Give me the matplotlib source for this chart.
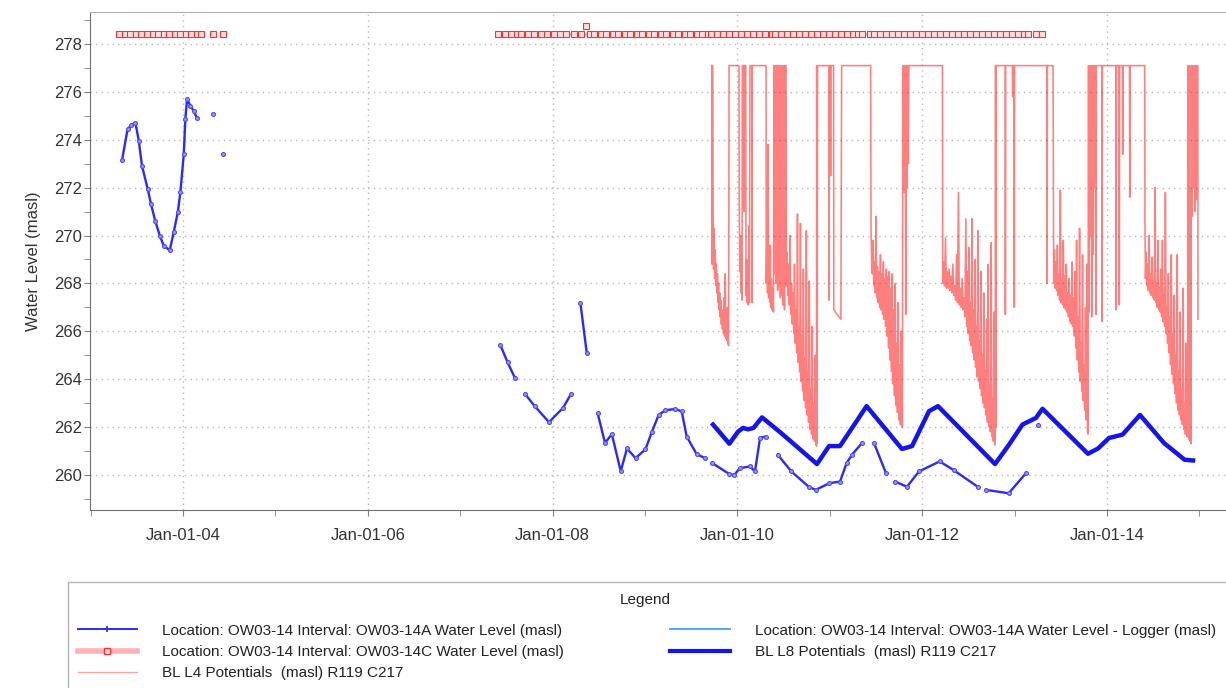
import numpy as np
import matplotlib
matplotlib.use('Agg')
import matplotlib.pyplot as plt
from matplotlib.lines import Line2D
from matplotlib.patches import Rectangle

plt.rcParams['font.family'] = ['Liberation Sans', 'DejaVu Sans']

# x axis in decimal years, y in masl
year_ticks = [2004, 2006, 2008, 2010, 2012, 2014]
year_labels = ['Jan-01-04', 'Jan-01-06', 'Jan-01-08', 'Jan-01-10', 'Jan-01-12', 'Jan-01-14']
year_minor = list(range(2003, 2016))
nan = np.nan

# OW03-14A Water Level (manual readings), gaps marked by nan
wl_a = [
    (2003.340, 273.15), (2003.400, 274.45), (2003.437, 274.60), (2003.484, 274.72),
    (2003.521, 273.96), (2003.556, 272.90), (2003.618, 271.94), (2003.654, 271.30),
    (2003.700, 270.60), (2003.748, 270.00), (2003.791, 269.58), (2003.856, 269.38),
    (2003.899, 270.14), (2003.943, 270.97), (2003.971, 271.80), (2004.008, 273.40),
    (2004.025, 274.86), (2004.043, 275.70), (2004.079, 275.42), (2004.116, 275.20),
    (2004.152, 274.90), (nan, nan),
    (2004.325, 275.07), (nan, nan),
    (2004.433, 273.40), (nan, nan),
    (2007.433, 265.43), (2007.513, 264.70), (2007.593, 264.04), (nan, nan),
    (2007.701, 263.38), (2007.808, 262.86), (2007.961, 262.20), (2008.113, 262.80),
    (2008.199, 263.38), (nan, nan),
    (2008.301, 267.17), (2008.369, 265.10), (nan, nan),
    (2008.487, 262.58), (2008.567, 261.33), (2008.641, 261.70), (2008.737, 260.15),
    (2008.805, 261.10), (2008.897, 260.70), (2009.004, 261.06), (2009.075, 261.80),
    (2009.147, 262.50), (2009.220, 262.70), (2009.325, 262.75), (2009.397, 262.65),
    (2009.451, 261.60), (2009.558, 260.87), (2009.647, 260.70), (nan, nan),
    (2009.725, 260.50), (2009.913, 260.03), (2009.968, 260.00), (2010.025, 260.28),
    (2010.136, 260.35), (2010.190, 260.14), (2010.245, 261.54), (2010.305, 261.60),
    (nan, nan),
    (2010.436, 260.84), (2010.584, 260.14), (2010.772, 259.50), (2010.846, 259.37),
    (2010.996, 259.65), (2011.111, 259.72), (2011.182, 260.49), (2011.240, 260.84),
    (2011.348, 261.33), (nan, nan),
    (2011.478, 261.33), (2011.608, 260.07), (nan, nan),
    (2011.706, 259.72), (2011.835, 259.50), (2011.965, 260.14), (2012.189, 260.56),
    (2012.339, 260.20), (2012.601, 259.50), (nan, nan),
    (2012.690, 259.37), (2012.936, 259.23), (2013.123, 260.07), (nan, nan),
    (2013.253, 262.07),
]

# OW03-14C Water Level, flat readings at the top of the chart
c_level = 278.42
c_t = [
    2003.31, 2003.37, 2003.43, 2003.49, 2003.55, 2003.61, 2003.67, 2003.73,
    2003.79, 2003.85, 2003.91, 2003.97, 2004.03, 2004.09, 2004.15, 2004.19, nan,
    2004.325, nan, 2004.433, nan,
    2007.41, 2007.48, 2007.55, 2007.615, nan,
    2007.66, 2007.73, 2007.80, 2007.87, 2007.94, 2008.01, 2008.08, 2008.15, 2008.23, nan,
    2008.31, 2008.40, nan,
    2008.45, 2008.52, 2008.58, 2008.65, 2008.71, 2008.78, 2008.84, 2008.91, 2008.97,
    2009.04, 2009.10, 2009.17, 2009.23, 2009.30, 2009.36, 2009.43, 2009.49, 2009.56,
    2009.62, 2009.68, nan,
    2009.71, 2009.78, 2009.84, 2009.91, 2009.97, 2010.04, 2010.10, 2010.17, 2010.23,
    2010.30, 2010.37, nan,
    2010.41, 2010.47, 2010.54, 2010.60, 2010.67, 2010.73, 2010.80, 2010.86, 2010.93,
    2010.99, 2011.06, 2011.12, 2011.19, 2011.25, 2011.30, nan,
    2011.35, 2011.43, nan,
    2011.48, 2011.54, 2011.61, 2011.67, 2011.74, 2011.80, 2011.87, 2011.93, 2012.00,
    2012.06, 2012.13, 2012.19, 2012.26, 2012.32, 2012.39, 2012.45, 2012.52, 2012.58,
    2012.65, 2012.71, 2012.78, 2012.84, 2012.91, 2012.97, 2013.04, 2013.10, 2013.145, nan,
    2013.23, 2013.30,
]
c_high = (2008.36, 278.75)

# BL L8 Potentials
l8 = [
    (2009.736, 262.10), (2009.913, 261.30), (2010.006, 261.80), (2010.060, 261.96),
    (2010.115, 261.90), (2010.174, 261.96), (2010.266, 262.40), (2010.472, 261.75),
    (2010.861, 260.45), (2010.991, 261.20), (2011.110, 261.20), (2011.398, 262.87),
    (2011.781, 261.08), (2011.890, 261.20), (2012.074, 262.66), (2012.171, 262.87),
    (2012.788, 260.45), (2012.940, 261.26), (2013.085, 262.10), (2013.232, 262.38),
    (2013.302, 262.76), (2013.794, 260.88), (2013.903, 261.10), (2014.022, 261.54),
    (2014.168, 261.68), (2014.357, 262.50), (2014.617, 261.33), (2014.840, 260.63),
    (2014.931, 260.60),
]

# BL L4 Potentials (logger style, capped at 277.1)
l4 = [
    (2009.722, 277.1), (2009.726, 268.8), (2009.730, 277.1), (2009.736, 271.6),
    (2009.742, 268.6), (2009.748, 270.3), (2009.754, 268.2), (2009.760, 269.4),
    (2009.766, 267.9), (2009.772, 268.8), (2009.778, 267.6), (2009.784, 268.4),
    (2009.790, 267.2), (2009.796, 268.0), (2009.802, 266.9), (2009.808, 267.6),
    (2009.814, 266.6), (2009.820, 267.3), (2009.826, 266.3), (2009.832, 266.9),
    (2009.838, 266.1), (2009.844, 266.6), (2009.850, 265.9), (2009.856, 267.4),
    (2009.862, 265.8), (2009.868, 268.4), (2009.874, 265.7), (2009.880, 266.2),
    (2009.886, 265.6), (2009.892, 267.0), (2009.898, 265.5), (2009.904, 265.4),
    (2009.910, 277.1),
    (2010.017, 277.1), (2010.020, 271.4), (2010.026, 268.5), (2010.032, 270.0),
    (2010.038, 267.6), (2010.044, 269.2), (2010.050, 267.3), (2010.053, 277.1),
    (2010.070, 277.1), (2010.072, 271.0), (2010.074, 277.1),
    (2010.090, 277.1), (2010.093, 267.5), (2010.100, 269.0), (2010.106, 267.2),
    (2010.112, 268.6), (2010.118, 267.1), (2010.124, 270.4), (2010.130, 267.2),
    (2010.136, 277.1), (2010.156, 277.1), (2010.158, 267.2), (2010.161, 277.1),
    (2010.310, 277.1), (2010.312, 268.0), (2010.320, 270.2), (2010.326, 267.6),
    (2010.332, 273.8), (2010.338, 267.4), (2010.344, 268.5), (2010.350, 267.2),
    (2010.356, 269.6), (2010.362, 267.0), (2010.368, 268.2), (2010.374, 266.9),
    (2010.380, 267.8), (2010.390, 266.8), (2010.396, 277.1),
    (2010.405, 268.4), (2010.410, 277.1), (2010.420, 268.0), (2010.425, 277.1),
    (2010.435, 267.7), (2010.440, 277.1), (2010.450, 267.9), (2010.455, 277.1),
    (2010.465, 267.4), (2010.470, 277.1), (2010.480, 267.5), (2010.485, 277.1),
    (2010.495, 267.1), (2010.500, 277.1), (2010.510, 266.9), (2010.515, 277.1),
    (2010.526, 277.1),
    (2010.530, 267.9), (2010.538, 269.3), (2010.546, 267.5), (2010.554, 268.8),
    (2010.562, 267.1), (2010.570, 270.0), (2010.578, 266.7), (2010.586, 268.0),
    (2010.594, 266.3), (2010.602, 267.6), (2010.610, 265.9), (2010.618, 268.8),
    (2010.626, 265.5), (2010.634, 266.9), (2010.642, 265.1), (2010.650, 270.9),
    (2010.658, 264.7), (2010.666, 266.2), (2010.674, 264.3), (2010.682, 270.5),
    (2010.690, 263.9), (2010.698, 265.8), (2010.706, 263.5), (2010.714, 268.6),
    (2010.722, 263.1), (2010.730, 264.9), (2010.738, 262.8), (2010.746, 270.2),
    (2010.754, 262.5), (2010.762, 264.4), (2010.770, 262.2), (2010.778, 268.1),
    (2010.786, 261.9), (2010.794, 263.6), (2010.802, 261.7), (2010.810, 266.2),
    (2010.818, 261.5), (2010.826, 263.0), (2010.834, 261.4), (2010.842, 265.0),
    (2010.850, 261.3), (2010.856, 261.2), (2010.858, 277.1), (2010.863, 261.3),
    (2010.867, 277.1),
    (2010.989, 277.1), (2010.991, 267.3), (2010.993, 277.1),
    (2011.007, 277.1), (2011.009, 272.5), (2011.011, 277.1),
    (2011.041, 277.1), (2011.043, 266.9), (2011.060, 266.8), (2011.080, 266.7),
    (2011.100, 266.6), (2011.120, 266.5), (2011.128, 277.1),
    (2011.442, 277.1), (2011.446, 270.5), (2011.452, 269.0), (2011.460, 268.4),
    (2011.468, 269.8), (2011.476, 267.9), (2011.484, 268.9), (2011.492, 267.6),
    (2011.500, 270.8), (2011.508, 267.4), (2011.516, 268.7), (2011.524, 267.2),
    (2011.532, 268.5), (2011.540, 267.0), (2011.548, 269.2), (2011.556, 266.9),
    (2011.564, 268.4), (2011.572, 266.7), (2011.580, 268.9), (2011.588, 266.5),
    (2011.596, 268.2), (2011.604, 266.2), (2011.612, 268.6), (2011.620, 265.8),
    (2011.628, 268.3), (2011.636, 265.3), (2011.644, 268.5), (2011.652, 264.8),
    (2011.660, 267.8), (2011.668, 264.3), (2011.676, 268.4), (2011.684, 263.8),
    (2011.692, 266.9), (2011.700, 263.3), (2011.708, 268.0), (2011.716, 262.9),
    (2011.724, 265.5), (2011.732, 262.6), (2011.740, 267.2), (2011.748, 262.3),
    (2011.756, 264.6), (2011.764, 262.1), (2011.772, 266.0), (2011.780, 262.0),
    (2011.786, 262.0), (2011.790, 277.1),
    (2011.795, 272.5), (2011.800, 277.1), (2011.808, 271.8), (2011.815, 277.1),
    (2011.822, 266.7), (2011.826, 277.1), (2011.835, 272.0), (2011.840, 277.1),
    (2011.850, 273.0), (2011.855, 277.1),
    (2012.219, 277.1), (2012.222, 268.0), (2012.232, 268.9), (2012.242, 267.9),
    (2012.252, 269.9), (2012.262, 267.8), (2012.272, 268.5), (2012.282, 267.8),
    (2012.292, 268.6), (2012.302, 267.7), (2012.312, 268.3), (2012.322, 267.6),
    (2012.332, 268.8), (2012.342, 267.5), (2012.352, 267.9), (2012.362, 267.3),
    (2012.372, 269.2), (2012.382, 267.2), (2012.392, 271.8), (2012.402, 267.1),
    (2012.412, 267.8), (2012.422, 267.0), (2012.432, 268.2), (2012.442, 266.9),
    (2012.452, 267.4), (2012.462, 266.6), (2012.472, 270.7), (2012.482, 266.2),
    (2012.490, 268.5), (2012.498, 265.9), (2012.506, 269.5), (2012.514, 265.6),
    (2012.522, 267.2), (2012.530, 265.4), (2012.538, 270.7), (2012.546, 265.1),
    (2012.554, 266.9), (2012.562, 264.8), (2012.570, 269.0), (2012.578, 264.5),
    (2012.586, 266.2), (2012.594, 264.1), (2012.602, 270.2), (2012.610, 263.9),
    (2012.618, 265.6), (2012.626, 263.6), (2012.634, 268.5), (2012.642, 263.3),
    (2012.650, 265.0), (2012.658, 263.0), (2012.666, 267.6), (2012.674, 262.8),
    (2012.682, 264.4), (2012.690, 262.5), (2012.698, 266.5), (2012.706, 262.2),
    (2012.714, 268.8), (2012.722, 262.0), (2012.730, 263.8), (2012.738, 261.8),
    (2012.746, 269.7), (2012.754, 261.6), (2012.762, 263.2), (2012.770, 261.4),
    (2012.778, 266.8), (2012.786, 261.25), (2012.790, 261.25), (2012.794, 277.1),
    (2012.797, 262.0), (2012.800, 277.1),
    (2012.898, 277.1), (2012.900, 266.7), (2012.904, 277.1),
    (2012.976, 277.1), (2012.979, 275.8), (2012.982, 277.1),
    (2012.994, 277.1), (2012.997, 267.0), (2013.000, 277.1),
    (2013.350, 277.1), (2013.352, 268.0), (2013.355, 277.1),
    (2013.416, 277.1), (2013.419, 272.5), (2013.423, 268.0), (2013.431, 269.4),
    (2013.439, 267.8), (2013.447, 268.9), (2013.455, 267.7), (2013.463, 269.6),
    (2013.471, 267.5), (2013.479, 268.4), (2013.487, 267.3), (2013.495, 271.9),
    (2013.503, 267.2), (2013.511, 268.1), (2013.519, 267.1), (2013.527, 269.8),
    (2013.535, 267.0), (2013.543, 268.3), (2013.551, 266.9), (2013.559, 268.8),
    (2013.567, 266.8), (2013.575, 267.6), (2013.583, 266.6), (2013.591, 268.2),
    (2013.599, 266.4), (2013.607, 267.5), (2013.615, 266.3), (2013.623, 268.9),
    (2013.631, 266.2), (2013.639, 267.4), (2013.647, 265.8), (2013.655, 268.5),
    (2013.663, 265.3), (2013.671, 269.8), (2013.679, 264.8), (2013.687, 266.6),
    (2013.695, 264.3), (2013.703, 270.3), (2013.711, 263.9), (2013.719, 265.5),
    (2013.727, 263.5), (2013.735, 269.2), (2013.743, 263.1), (2013.751, 264.6),
    (2013.759, 262.7), (2013.767, 267.0), (2013.775, 262.3), (2013.783, 268.8),
    (2013.789, 261.8), (2013.794, 261.7), (2013.800, 277.1),
    (2013.805, 266.8), (2013.810, 277.1), (2013.820, 270.0), (2013.825, 277.1),
    (2013.835, 266.6), (2013.840, 277.1), (2013.850, 269.2), (2013.855, 277.1),
    (2013.865, 272.0), (2013.870, 277.1), (2013.880, 266.7), (2013.885, 277.1),
    (2013.943, 277.1), (2013.946, 266.4), (2013.950, 277.1),
    (2014.096, 277.1), (2014.099, 266.9), (2014.103, 277.1),
    (2014.130, 277.1), (2014.133, 267.1), (2014.137, 277.1),
    (2014.167, 277.1), (2014.170, 273.4), (2014.173, 277.1),
    (2014.243, 277.1), (2014.246, 271.6), (2014.249, 277.1),
    (2014.408, 277.1), (2014.411, 270.5), (2014.416, 268.2), (2014.424, 269.3),
    (2014.432, 267.9), (2014.440, 268.8), (2014.448, 267.7), (2014.456, 270.0),
    (2014.464, 267.6), (2014.472, 268.4), (2014.480, 267.5), (2014.488, 269.1),
    (2014.496, 267.4), (2014.504, 268.1), (2014.512, 267.3), (2014.520, 272.0),
    (2014.528, 267.2), (2014.536, 268.0), (2014.544, 267.0), (2014.552, 269.8),
    (2014.560, 266.9), (2014.568, 267.8), (2014.576, 266.8), (2014.584, 268.6),
    (2014.592, 266.6), (2014.600, 269.8), (2014.608, 266.4), (2014.616, 267.5),
    (2014.624, 266.2), (2014.632, 271.8), (2014.640, 265.9), (2014.648, 267.0),
    (2014.656, 265.5), (2014.664, 268.4), (2014.672, 265.1), (2014.680, 266.6),
    (2014.688, 264.6), (2014.696, 269.2), (2014.704, 264.2), (2014.712, 265.9),
    (2014.720, 263.8), (2014.728, 267.5), (2014.736, 263.4), (2014.744, 265.0),
    (2014.752, 263.0), (2014.760, 269.2), (2014.768, 262.7), (2014.776, 264.4),
    (2014.784, 262.5), (2014.792, 266.8), (2014.800, 262.3), (2014.808, 263.6),
    (2014.816, 262.1), (2014.824, 267.8), (2014.832, 261.9), (2014.840, 263.0),
    (2014.848, 261.7), (2014.856, 265.5), (2014.864, 261.6), (2014.872, 262.4),
    (2014.878, 277.1), (2014.884, 261.5), (2014.890, 277.1), (2014.896, 261.4),
    (2014.902, 272.0), (2014.908, 261.3), (2014.912, 277.1), (2014.920, 270.8),
    (2014.926, 277.1), (2014.934, 272.0), (2014.940, 277.1), (2014.950, 271.0),
    (2014.956, 277.1), (2014.966, 271.5), (2014.972, 277.1), (2014.983, 277.1),
    (2014.985, 266.5),
]

lab_a = 'Location: OW03-14 Interval: OW03-14A Water Level (masl)'
lab_c = 'Location: OW03-14 Interval: OW03-14C Water Level (masl)'
lab_l4 = 'BL L4 Potentials  (masl) R119 C217'
lab_log = 'Location: OW03-14 Interval: OW03-14A Water Level - Logger (masl)'
lab_l8 = 'BL L8 Potentials  (masl) R119 C217'

W, H = 1226, 688
fig = plt.figure(figsize=(W / 100, H / 100), dpi=100)
ax = fig.add_axes([90 / W, 1 - 510 / H, 1 - 90 / W, (510 - 12) / H])

a_t, a_v = np.array(wl_a).T
l4_t, l4_v = np.array(l4).T
l8_t, l8_v = np.array(l8).T
c_t = np.array(c_t)
c_v = np.where(np.isnan(c_t), nan, c_level)

ax.plot(l4_t, l4_v, color='#ff0000', lw=1.15, alpha=0.5, zorder=2)
ax.plot(c_t, c_v, color='#ffb3b3', lw=2.0, marker='s', ms=4, mfc='#ffe0e0',
        mec='#ff3030', mew=0.8, zorder=3)
ax.plot([c_high[0]], [c_high[1]], ls='none', marker='s', ms=4, mfc='#ffe0e0',
        mec='#ff3030', mew=0.8, zorder=3)
ax.plot(l8_t, l8_v, color='#1414f0', lw=3.2, zorder=4)
ax.plot(a_t, a_v, color='#2a2aff', lw=1.7, marker='o', ms=2.8, mfc='#9a9aff',
        mec='#4a4aff', mew=0.8, zorder=5)

ax.set_xlim(2002.993, 2015.288)
ax.set_ylim(258.53, 279.34)
ax.set_xticks(year_ticks)
ax.set_xticklabels(year_labels)
ax.set_xticks(year_minor, minor=True)
ax.set_yticks(range(260, 279, 2))
ax.set_yticks(range(259, 280, 2), minor=True)

ax.grid(True, which='major', color='#b8b8b8', ls=(0, (1, 3)), lw=1.0)
ax.tick_params(which='both', direction='out', length=4, color='#808080',
               labelsize=12, labelcolor='#333333')
ax.tick_params(axis='x', pad=9)
ax.tick_params(axis='y', pad=2)
for s in ['left', 'bottom']:
    ax.spines[s].set_color('#707070')
ax.spines['top'].set_color('#b0b0b0')
ax.spines['right'].set_visible(False)
ax.set_ylabel('Water Level (masl)', fontsize=12, color='#333333', labelpad=9)

# legend below the plot
handles = [
    Line2D([], [], color='#2a2aff', lw=1.4, marker='|', ms=5, mew=1.2),
    Line2D([], [], color='#ffb3b3', lw=4, marker='s', ms=4, mfc='#ffe0e0', mec='#ff3030'),
    Line2D([], [], color='#ff0000', lw=1.0, alpha=0.35),
    Line2D([], [], color='#4aa8ff', lw=1.4),
    Line2D([], [], color='#1414f0', lw=3.0),
]
labels = [lab_a, lab_c, lab_l4, lab_log, lab_l8]
leg = fig.legend(handles, labels, loc='upper left', bbox_to_anchor=(70 / W, 1 - 616 / H),
                 ncol=2, frameon=False, fontsize=11,
                 handlelength=3.9, handletextpad=1.6, columnspacing=7.0, labelspacing=0.48,
                 borderpad=0)
for t in leg.get_texts():
    t.set_color('#222222')
fig.text(645 / W, 1 - 600 / H, 'Legend', ha='center', va='center', fontsize=11, color='#222222')
fig.patches.append(Rectangle((68 / W, -0.01), 1.0, (688 - 582) / H + 0.01,
                             transform=fig.transFigure, fill=False, ec='#b4b4b4', lw=1.0))

fig.savefig('out.png', dpi=100)
